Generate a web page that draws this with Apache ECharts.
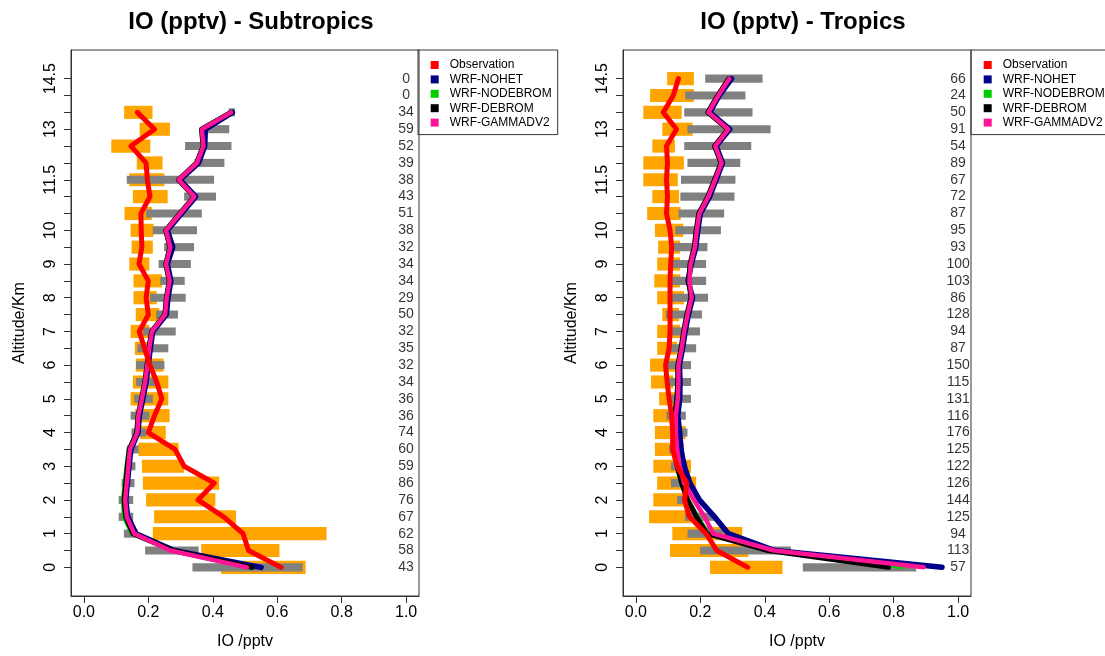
<!DOCTYPE html>
<html><head><meta charset="utf-8">
<script src="https://cdn.jsdelivr.net/npm/echarts@6/dist/echarts.min.js"></script>
<style>html,body{margin:0;padding:0;background:#fff}#c{width:1105px;height:656px}</style>
</head><body><div id="c"></div>
<script>
// ---------- data ----------
const levels = [0,0.5,1,1.5,2,2.5,3,3.5,4,4.5,5,5.5,6,6.5,7,7.5,8,8.5,9,9.5,10,10.5,11,11.5,12,12.5,13,13.5,14,14.5];
const yLabelValues = [0,1,2,3,4,5,6,7,8,9,10,11.5,13,14.5];
const xTickValues = [0,0.2,0.4,0.6,0.8,1.0];
const seriesNames = ['Observation','WRF-NOHET','WRF-NODEBROM','WRF-DEBROM','WRF-GAMMADV2'];
const panelTitles = ['IO (pptv) - Subtropics','IO (pptv) - Tropics'];

// Subtropics
const subObs      = [0.612,0.511,0.494,0.434,0.354,0.405,0.311,0.283,0.200,0.219,0.242,0.226,0.205,0.188,0.172,0.200,0.193,0.200,0.171,0.180,0.178,0.177,0.205,0.197,0.193,0.146,0.219,0.166,null,null];
const subNohet    = [0.550,0.280,0.162,0.136,0.130,0.135,0.140,0.146,0.168,0.172,0.183,0.193,0.200,0.206,0.214,0.256,0.261,0.270,0.259,0.276,0.259,0.303,0.347,0.298,0.356,0.375,0.377,0.461,null,null];
const subNodebrom = [0.512,0.272,0.148,0.124,0.121,0.126,0.132,0.139,0.163,0.167,0.178,0.188,0.195,0.201,0.209,0.250,0.255,0.264,0.253,0.266,0.253,0.297,0.341,0.292,0.349,0.369,0.364,0.455,null,null];
const subDebrom   = [0.522,0.276,0.152,0.130,0.125,0.130,0.135,0.141,0.164,0.168,0.179,0.189,0.196,0.202,0.210,0.251,0.256,0.265,0.254,0.267,0.254,0.298,0.342,0.293,0.350,0.370,0.365,0.456,null,null];
const subGammadv2 = [0.506,0.268,0.156,0.133,0.128,0.133,0.138,0.143,0.166,0.169,0.180,0.190,0.197,0.203,0.211,0.252,0.257,0.266,0.255,0.268,0.255,0.299,0.343,0.294,0.351,0.371,0.366,0.457,null,null];
const subObsLo    = [0.426,0.364,0.214,0.218,0.193,0.183,0.180,0.169,0.174,0.159,0.145,0.152,0.161,0.158,0.145,0.161,0.154,0.154,0.141,0.148,0.145,0.126,0.152,0.141,0.164,0.085,0.173,0.125,null,null];
const subObsHi    = [0.688,0.607,0.753,0.472,0.408,0.420,0.311,0.294,0.254,0.266,0.262,0.262,0.247,0.205,0.203,0.234,0.226,0.242,0.203,0.214,0.216,0.211,0.260,0.250,0.244,0.206,0.267,0.213,null,null];
const subModLo    = [0.337,0.190,0.124,0.108,0.108,0.117,0.130,0.133,0.148,0.145,0.156,0.162,0.162,0.166,0.183,0.224,0.205,0.237,0.232,0.249,0.214,0.193,0.311,0.133,0.343,0.314,0.375,0.449,null,null];
const subModHi    = [0.679,0.356,0.166,0.153,0.153,0.157,0.160,0.170,0.193,0.203,0.214,0.230,0.250,0.262,0.285,0.292,0.316,0.313,0.332,0.342,0.351,0.366,0.410,0.404,0.436,0.458,0.451,0.469,null,null];
const subCounts   = [43,58,62,67,76,86,59,60,74,36,36,34,32,35,32,50,29,34,34,32,38,51,43,38,39,52,59,34,0,0];

// Tropics
const troObs      = [0.347,0.251,0.218,0.166,0.151,0.158,0.128,0.114,0.114,0.111,0.103,0.097,0.092,0.103,0.106,0.106,0.106,0.106,0.108,0.111,0.106,0.095,0.098,0.095,0.098,0.095,0.126,0.085,0.116,0.132];
const troNohet    = [0.950,0.431,0.287,0.244,0.197,0.168,0.150,0.140,0.136,0.130,0.136,0.137,0.135,0.145,0.153,0.163,0.176,0.162,0.172,0.186,0.192,0.200,0.229,0.249,0.269,0.249,0.291,0.229,0.259,0.297];
const troNodebrom = [0.826,0.418,0.225,0.192,0.163,0.140,0.128,0.122,0.120,0.121,0.128,0.130,0.130,0.140,0.148,0.158,0.171,0.164,0.168,0.181,0.187,0.195,0.223,0.244,0.264,0.244,0.285,0.223,0.254,0.288];
const troDebrom   = [0.784,0.410,0.220,0.188,0.160,0.142,0.128,0.122,0.120,0.120,0.127,0.130,0.130,0.140,0.148,0.158,0.171,0.164,0.168,0.181,0.187,0.195,0.223,0.244,0.264,0.244,0.285,0.223,0.254,0.288];
const troGammadv2 = [0.893,0.429,0.240,0.213,0.180,0.150,0.136,0.128,0.124,0.124,0.130,0.132,0.132,0.142,0.150,0.160,0.173,0.166,0.170,0.183,0.189,0.197,0.225,0.246,0.266,0.246,0.287,0.225,0.256,0.290];
const troObsLo    = [0.230,0.106,0.113,0.041,0.054,0.066,0.054,0.059,0.059,0.054,0.072,0.047,0.044,0.066,0.066,0.082,0.066,0.057,0.066,0.069,0.059,0.035,0.051,0.023,0.023,0.051,0.082,0.023,0.044,0.097];
const troObsHi    = [0.455,0.349,0.330,0.170,0.169,0.187,0.171,0.149,0.154,0.124,0.123,0.116,0.124,0.128,0.137,0.134,0.149,0.137,0.137,0.137,0.147,0.139,0.134,0.130,0.149,0.121,0.176,0.142,0.180,0.180];
const troModLo    = [0.518,0.199,0.160,0.152,0.128,0.109,0.109,0.103,0.116,0.095,0.107,0.098,0.098,0.109,0.109,0.093,0.111,0.111,0.114,0.116,0.122,0.132,0.138,0.140,0.160,0.150,0.160,0.150,0.153,0.215];
const troModHi    = [0.870,0.481,0.271,0.245,0.160,0.168,0.160,0.149,0.160,0.155,0.171,0.171,0.171,0.187,0.199,0.205,0.224,0.218,0.218,0.222,0.264,0.274,0.306,0.309,0.324,0.358,0.418,0.362,0.340,0.393];
const troCounts   = [57,113,94,125,144,126,122,125,176,116,131,115,150,87,94,128,86,103,100,93,95,87,72,67,89,54,91,50,24,66];

// ---------- build ----------
const FONT = 'Liberation Sans, Arial, Helvetica, sans-serif';
const colors = {'Observation':'#FF0000','WRF-NOHET':'#00008B','WRF-NODEBROM':'#00CD00','WRF-DEBROM':'#000000','WRF-GAMMADV2':'#FF1493'};
const widths = {'Observation':5,'WRF-NOHET':5.5,'WRF-NODEBROM':4,'WRF-DEBROM':5,'WRF-GAMMADV2':4.5};
const drawOrder = ['WRF-NOHET','WRF-NODEBROM','WRF-DEBROM','WRF-GAMMADV2','Observation'];

const panels = [
  {lines:{'Observation':subObs,'WRF-NOHET':subNohet,'WRF-NODEBROM':subNodebrom,'WRF-DEBROM':subDebrom,'WRF-GAMMADV2':subGammadv2},
   obsLo:subObsLo, obsHi:subObsHi, modLo:subModLo, modHi:subModHi, counts:subCounts, left:71, legendLeft:418},
  {lines:{'Observation':troObs,'WRF-NOHET':troNohet,'WRF-NODEBROM':troNodebrom,'WRF-DEBROM':troDebrom,'WRF-GAMMADV2':troGammadv2},
   obsLo:troObsLo, obsHi:troObsHi, modLo:troModLo, modHi:troModHi, counts:troCounts, left:623, legendLeft:971}
];

function rangeData(lo, hi){
  const out = [];
  levels.forEach((lv,i)=>{ if(lo[i]!=null && hi[i]!=null) out.push([lo[i],hi[i],lv]); });
  return out;
}
function barRenderer(color, thick){
  return function(params, api){
    const a = api.coord([api.value(0), api.value(2)]);
    const b = api.coord([api.value(1), api.value(2)]);
    const h = api.size([0, thick])[1];
    return {type:'rect', shape:{x:a[0], y:a[1]-h/2, width:b[0]-a[0], height:h}, style:{fill:color}};
  };
}

const grids = [], xAxes = [], yAxes = [], series = [], legends = [], titles = [];
panels.forEach((p, k)=>{
  grids.push({left:p.left, top:50, width:348, height:546, show:true, borderColor:'#333', borderWidth:1, backgroundColor:'transparent'});
  xAxes.push({type:'value', gridIndex:k, min:-0.04, max:1.04,
    name:'IO /pptv', nameLocation:'middle', nameGap:38,
    nameTextStyle:{fontSize:16, color:'#000', fontFamily:FONT},
    axisLine:{show:true, onZero:false, lineStyle:{color:'#333', width:1}},
    axisTick:{show:true, inside:false, length:7, customValues:xTickValues, lineStyle:{color:'#333'}},
    axisLabel:{show:true, customValues:xTickValues, formatter:v=>v.toFixed(1), fontSize:16, color:'#000', margin:9, fontFamily:FONT},
    splitLine:{show:false}});
  yAxes.push({type:'value', gridIndex:k, min:-0.85, max:15.35,
    name:'Altitude/Km', nameLocation:'middle', nameGap:43,
    nameTextStyle:{fontSize:16, color:'#000', fontFamily:FONT},
    axisLine:{show:true, onZero:false, lineStyle:{color:'#333', width:1}},
    axisTick:{show:true, inside:false, length:7, customValues:levels, lineStyle:{color:'#333'}},
    axisLabel:{show:true, customValues:yLabelValues, rotate:90, formatter:v=>String(v), fontSize:16, color:'#000', margin:12, fontFamily:FONT},
    splitLine:{show:false}});
  series.push({type:'custom', name:'obsRange'+k, xAxisIndex:k, yAxisIndex:k, z:1,
    renderItem:barRenderer('#FFA500', 0.39), encode:{x:[0,1], y:2}, data:rangeData(p.obsLo,p.obsHi), silent:true});
  series.push({type:'custom', name:'modRange'+k, xAxisIndex:k, yAxisIndex:k, z:2,
    renderItem:barRenderer('#808080', 0.24), encode:{x:[0,1], y:2}, data:rangeData(p.modLo,p.modHi), silent:true});
  drawOrder.forEach((nm, j)=>{
    const vals = p.lines[nm];
    const d = [];
    levels.forEach((lv,i)=>{ if(vals[i]!=null) d.push([vals[i], lv]); });
    series.push({type:'line', name:nm, xAxisIndex:k, yAxisIndex:k, z:3+j, data:d,
      showSymbol:false, symbol:'none', color:colors[nm],
      itemStyle:{color:colors[nm]},
      lineStyle:{color:colors[nm], width:widths[nm], join:'round', cap:'round'}});
  });
  series.push({type:'scatter', name:'counts'+k, xAxisIndex:k, yAxisIndex:k, z:10,
    symbolSize:1, itemStyle:{color:'transparent'}, silent:true,
    data:levels.map((lv,i)=>[1.0, lv, p.counts[i]]),
    label:{show:true, position:'inside', formatter:q=>String(q.value[2]), fontSize:14, color:'#000', fontFamily:FONT}});
  legends.push({orient:'vertical', left:p.legendLeft, top:50, data:seriesNames, icon:'rect',
    itemWidth:8, itemHeight:8, itemGap:2.4, padding:[9,6,6,12.7], borderColor:'#333', borderWidth:1,
    selectedMode:false, textStyle:{fontSize:12, lineHeight:12, color:'#000', fontFamily:FONT, padding:[0,0,0,6]}});
});
titles.push({text:panelTitles[0], left:246, top:5, textAlign:'center', textStyle:{fontSize:24, fontWeight:'bold', color:'#000', fontFamily:FONT}});
titles.push({text:panelTitles[1], left:798, top:5, textAlign:'center', textStyle:{fontSize:24, fontWeight:'bold', color:'#000', fontFamily:FONT}});

const chart = echarts.init(document.getElementById('c'), null, {renderer:'canvas'});
chart.setOption({animation:false, backgroundColor:'#fff', title:titles, grid:grids, xAxis:xAxes, yAxis:yAxes, legend:legends, series:series});
</script>
</body></html>
